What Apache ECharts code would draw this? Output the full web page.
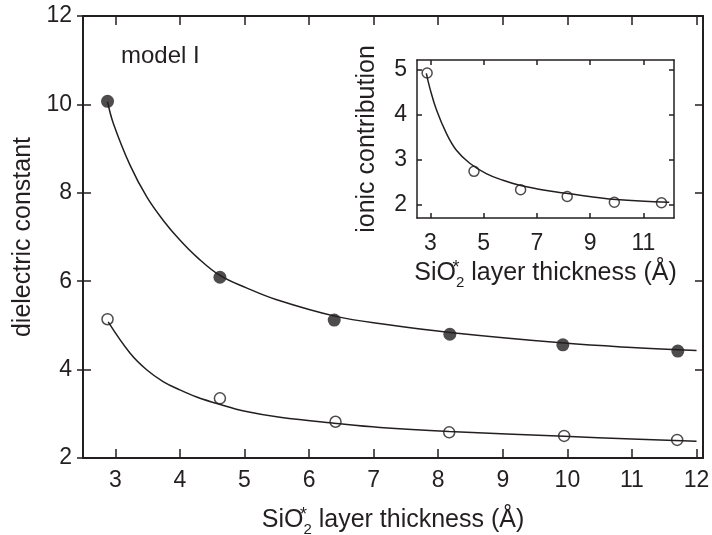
<!DOCTYPE html>
<html>
<head>
<meta charset="utf-8">
<title>dielectric constant vs SiO2 layer thickness</title>
<script src="https://cdn.jsdelivr.net/npm/echarts@6/dist/echarts.min.js"></script>
<style>
html, body { margin: 0; padding: 0; background: #fff; }
#chart { width: 712px; height: 535px; }
</style>
</head>
<body>
<div id="chart"></div>
<script>
// main plot - total dielectric constant (filled) and second set (open)
const filledX = [2.88, 4.62, 6.39, 8.18, 9.93, 11.71]
const filledY = [10.07, 6.09, 5.12, 4.80, 4.56, 4.42]
const openX = [2.88, 4.62, 6.41, 8.17, 9.95, 11.70]
const openY = [5.14, 3.35, 2.82, 2.58, 2.50, 2.41]

// fitted curves
const upperFitX = [2.88, 2.97, 3.23, 3.49, 3.74, 4.0, 4.26, 4.62, 5.03, 5.5, 6.4, 7.2, 8.18, 9.95, 11.0, 12.0]
const upperFitY = [10.06, 9.57, 8.62, 7.90, 7.38, 6.93, 6.55, 6.13, 5.85, 5.58, 5.21, 5.02, 4.84, 4.60, 4.50, 4.43]
const lowerFitX = [2.89, 3.23, 3.49, 3.74, 4.0, 4.26, 4.6, 5.03, 5.55, 6.43, 7.1, 8.17, 9.95, 11.0, 12.0]
const lowerFitY = [5.08, 4.37, 3.99, 3.73, 3.54, 3.38, 3.22, 3.05, 2.92, 2.78, 2.69, 2.60, 2.49, 2.43, 2.38]

// inset - ionic contribution
const insetX = [2.88, 4.64, 6.39, 8.14, 9.91, 11.68]
const insetY = [4.93, 2.74, 2.33, 2.18, 2.05, 2.04]
const insetFitX = [2.85, 2.98, 3.23, 3.6, 3.98, 4.48, 5.1, 5.73, 6.35, 7.48, 8.1, 9.98, 11.97]
const insetFitY = [4.92, 4.60, 4.11, 3.59, 3.21, 2.92, 2.69, 2.54, 2.43, 2.30, 2.25, 2.11, 2.05]

// tick labels
const mainXTicks = [3, 4, 5, 6, 7, 8, 9, 10, 11, 12]
const mainYTicks = [2, 4, 6, 8, 10, 12]
const insetXTicks = [3, 5, 7, 9, 11]
const insetYTicks = [2, 3, 4, 5]

const ink = '#231f20'
const font = '"Liberation Sans", Arial, Helvetica, sans-serif'

function zip(xs, ys) {
  return xs.map((x, i) => [x, ys[i]])
}

// rich text for "SiO2* layer thickness (Å)"
const thicknessName = '{n|SiO}{sup|*}{sub|2}{n| layer thickness (Å)}'
const thicknessRich = {
  n: { fontSize: 25, lineHeight: 34, color: ink, fontFamily: font },
  sup: { fontSize: 18, width: 0, verticalAlign: 'top', padding: [3, 0, 0, 0], color: ink, fontFamily: font },
  sub: { fontSize: 15, verticalAlign: 'bottom', color: ink, fontFamily: font }
}

// one side of a plot frame
function frameAxis(cfg) {
  return {
    type: 'value',
    gridIndex: cfg.grid,
    position: cfg.position,
    min: cfg.min,
    max: cfg.max,
    axisLine: { show: cfg.line !== false, onZero: false, lineStyle: { color: ink, width: cfg.lineWidth || 2 } },
    axisTick: {
      show: true,
      inside: cfg.inside !== false,
      length: cfg.tickLen,
      customValues: cfg.ticks,
      lineStyle: { color: ink, width: 1.5 }
    },
    axisLabel: {
      show: !!cfg.labels,
      customValues: cfg.ticks,
      margin: cfg.margin || 8,
      fontSize: cfg.fontSize || 23,
      color: ink,
      fontFamily: font
    },
    splitLine: { show: false },
    name: cfg.name || '',
    nameLocation: 'middle',
    nameGap: cfg.nameGap || 0,
    nameTextStyle: cfg.nameStyle || { fontSize: 25, color: ink, fontFamily: font }
  }
}

const chart = echarts.init(document.getElementById('chart'))

chart.setOption({
  animation: false,
  backgroundColor: '#fff',
  title: {
    text: 'model I',
    left: 121,
    top: 44,
    padding: 0,
    textStyle: { fontSize: 24, fontWeight: 'normal', color: ink, fontFamily: font }
  },
  grid: [
    { left: 83, top: 16, width: 620, height: 442, containLabel: false, outerBoundsMode: 'none' },
    { left: 417, top: 60, width: 257, height: 158, containLabel: false, outerBoundsMode: 'none',
      backgroundColor: '#fff', show: true, borderWidth: 0 }
  ],
  xAxis: [
    frameAxis({ grid: 0, position: 'bottom', min: 2.5, max: 12.1, tickLen: 9, ticks: mainXTicks, labels: true, margin: 11,
      name: thicknessName, nameGap: 45, nameStyle: { rich: thicknessRich } }),
    frameAxis({ grid: 0, position: 'top', min: 2.5, max: 12.1, tickLen: 9, ticks: mainXTicks }),
    frameAxis({ grid: 1, position: 'bottom', min: 2.5, max: 12.15, tickLen: 5, ticks: insetXTicks, labels: true, margin: 14,
      lineWidth: 1.5, name: thicknessName, nameGap: 38, nameStyle: { rich: thicknessRich } }),
    frameAxis({ grid: 1, position: 'top', min: 2.5, max: 12.15, tickLen: 5, ticks: insetXTicks, lineWidth: 1.5 })
  ],
  yAxis: [
    frameAxis({ grid: 0, position: 'left', min: 2, max: 12, tickLen: 6, inside: false, ticks: mainYTicks, labels: true, margin: 11,
      name: 'dielectric constant', nameGap: 44 }),
    // inner half of the crossing ticks on the left
    frameAxis({ grid: 0, position: 'left', min: 2, max: 12, tickLen: 8, ticks: mainYTicks, line: false }),
    frameAxis({ grid: 0, position: 'right', min: 2, max: 12, tickLen: 8, ticks: mainYTicks }),
    frameAxis({ grid: 1, position: 'left', min: 1.7, max: 5.22, tickLen: 5, ticks: insetYTicks, labels: true, margin: 10,
      lineWidth: 1.5, name: 'ionic contribution', nameGap: 37 }),
    frameAxis({ grid: 1, position: 'right', min: 1.7, max: 5.22, tickLen: 5, ticks: insetYTicks, lineWidth: 1.5 })
  ],
  series: [
    {
      type: 'line', xAxisIndex: 0, yAxisIndex: 0,
      data: zip(upperFitX, upperFitY),
      showSymbol: false, smooth: 0.4,
      lineStyle: { color: ink, width: 1.5 }
    },
    {
      type: 'line', xAxisIndex: 0, yAxisIndex: 0,
      data: zip(lowerFitX, lowerFitY),
      showSymbol: false, smooth: 0.4,
      lineStyle: { color: ink, width: 1.5 }
    },
    {
      type: 'scatter', xAxisIndex: 0, yAxisIndex: 0,
      data: zip(filledX, filledY),
      symbol: 'circle', symbolSize: 13,
      itemStyle: { color: ink }
    },
    {
      type: 'scatter', xAxisIndex: 0, yAxisIndex: 0,
      data: zip(openX, openY),
      symbol: 'circle', symbolSize: 11,
      itemStyle: { color: '#fff', borderColor: ink, borderWidth: 1.5 }
    },
    {
      type: 'line', xAxisIndex: 2, yAxisIndex: 3,
      data: zip(insetFitX, insetFitY),
      showSymbol: false, smooth: 0.4,
      lineStyle: { color: ink, width: 1.5 }
    },
    {
      type: 'scatter', xAxisIndex: 2, yAxisIndex: 3,
      data: zip(insetX, insetY),
      symbol: 'circle', symbolSize: 10,
      itemStyle: { color: '#fff', borderColor: ink, borderWidth: 1.5 }
    }
  ]
})
</script>
</body>
</html>
